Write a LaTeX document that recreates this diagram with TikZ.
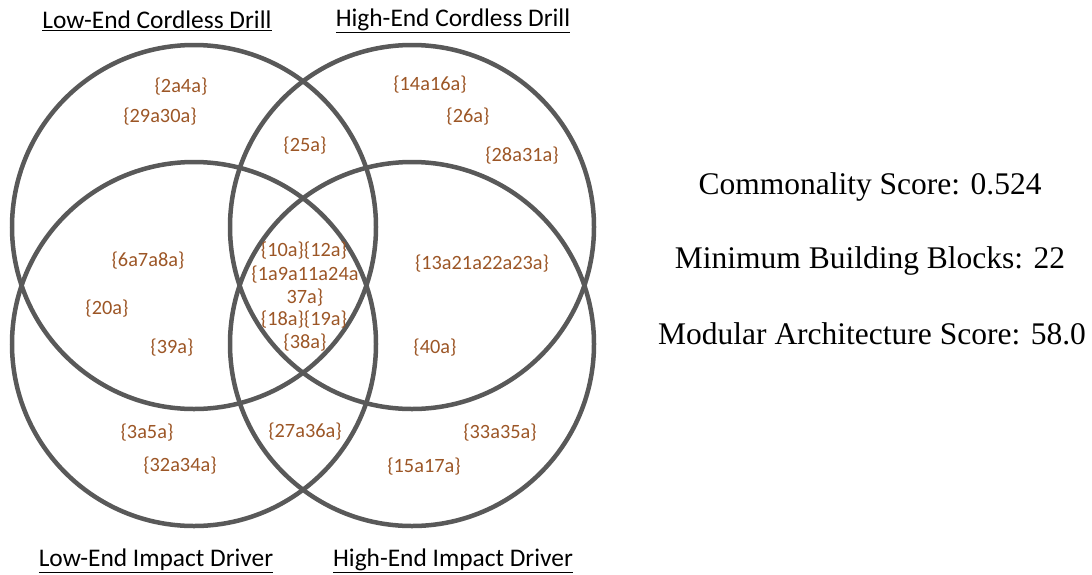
\documentclass[tikz,border=0pt]{standalone}
\usepackage{fontspec}
\setmainfont{Liberation Serif}
\newfontfamily\labelfont{Carlito}
\definecolor{ringgray}{RGB}{89,89,89}
\definecolor{setbrown}{RGB}{156,86,38}
\begin{document}
\begin{tikzpicture}[x=1pt,y=-1pt,
  ring/.style={circle, draw=ringgray, line width=4.5pt, minimum size=364pt, inner sep=0pt},
  setlbl/.style={font=\labelfont\fontsize{20.3}{23}\selectfont, text=setbrown, inner sep=0pt},
  title/.style={font=\labelfont\fontsize{25.4}{28}\selectfont, text=black, inner sep=0pt},
  score/.style={font=\fontsize{31.5}{36}\selectfont, text=black, inner sep=0pt}]
\useasboundingbox (0,0) rectangle (1092,574);

% the four product families
\node[ring] (lcd) at (194,227) {};
\node[ring] (hcd) at (412,227) {};
\node[ring] (lid) at (194,344) {};
\node[ring] (hid) at (412,344) {};

% family titles
\node[title] (tlcd) at (157,21) {\underline{Low-End Cordless Drill}};
\node[title] (thcd) at (453,21) {\underline{High-End Cordless Drill}};
\node[title] (tlid) at (156,561) {\underline{Low-End Impact Driver}};
\node[title] (thid) at (453,561) {\underline{High-End Impact Driver}};

% module sets in each region
\node[setlbl] (s1) at (181,87) {\{2a4a\}};
\node[setlbl] (s2) at (160,117) {\{29a30a\}};
\node[setlbl] (s3) at (305,146) {\{25a\}};
\node[setlbl] (s4) at (430,85) {\{14a16a\}};
\node[setlbl] (s5) at (468,117) {\{26a\}};
\node[setlbl] (s6) at (522,156) {\{28a31a\}};
\node[setlbl] (s7) at (148,261) {\{6a7a8a\}};
\node[setlbl] (s8) at (107,309) {\{20a\}};
\node[setlbl] (s9) at (172,348) {\{39a\}};
\node[setlbl] (c1) at (304,251) {\{10a\}\{12a\}};
\node[setlbl] (c2) at (305,275) {\{1a9a11a24a};
\node[setlbl] (c3) at (305,298) {37a\}};
\node[setlbl] (c4) at (304,320) {\{18a\}\{19a\}};
\node[setlbl] (c5) at (305,343) {\{38a\}};
\node[setlbl] (s10) at (482,264) {\{13a21a22a23a\}};
\node[setlbl] (s11) at (435,348) {\{40a\}};
\node[setlbl] (s12) at (147,433) {\{3a5a\}};
\node[setlbl] (s13) at (180,466) {\{32a34a\}};
\node[setlbl] (s14) at (305,432) {\{27a36a\}};
\node[setlbl] (s15) at (500,433) {\{33a35a\}};
\node[setlbl] (s16) at (424,467) {\{15a17a\}};

% summary scores
\node[score] (cs) at (870,187) {Commonality Score: 0.524};
\node[score] (mb) at (870,261) {Minimum Building Blocks: 22};
\node[score] (ma) at (872,334) {Modular Architecture Score: 58.0};
\end{tikzpicture}
\end{document}
